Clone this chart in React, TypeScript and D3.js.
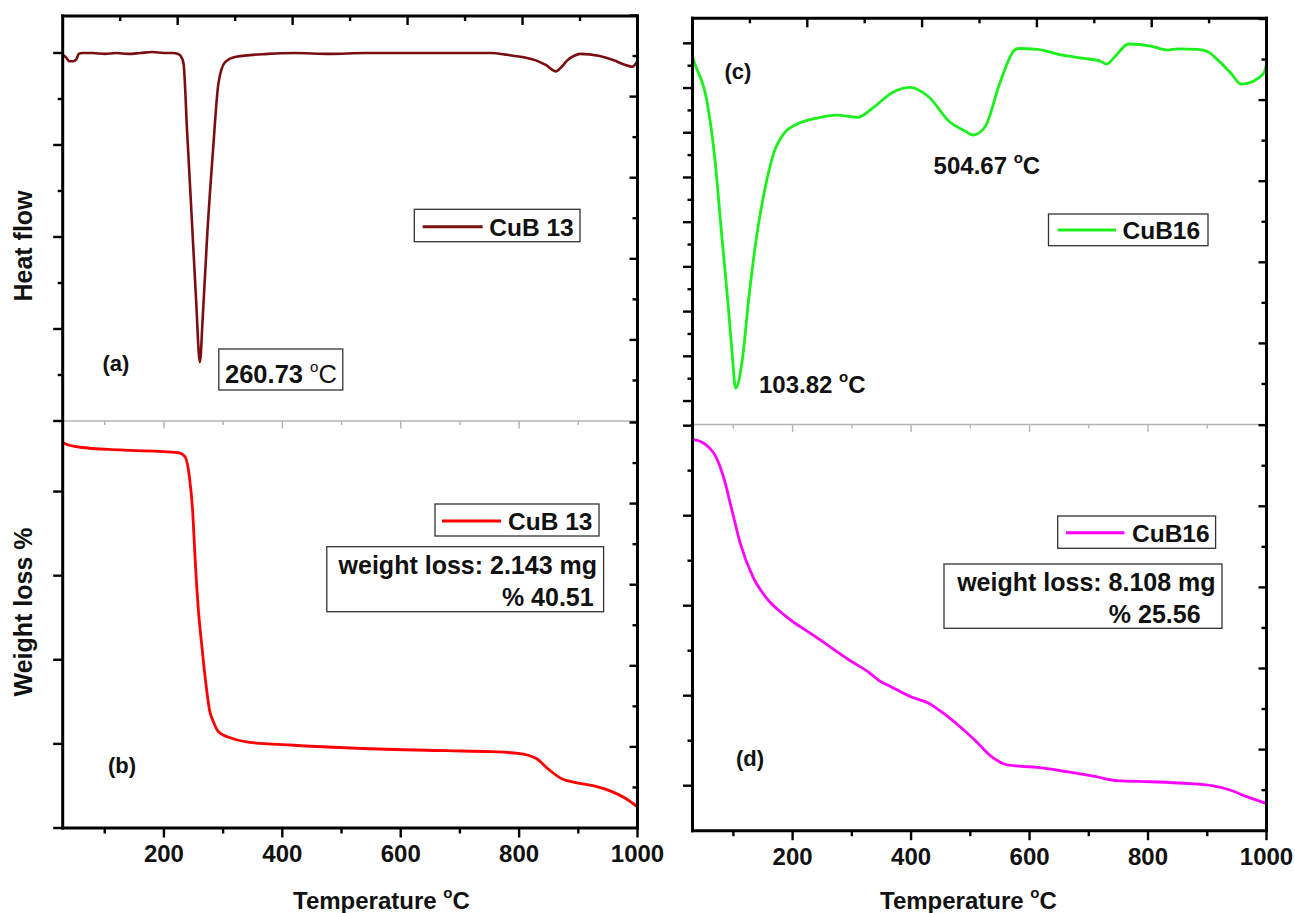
import React from 'react';
import * as d3 from 'd3';

// ---------------- data ----------------
// (a) DSC CuB 13
const aTemp = [29, 35, 40, 47, 52, 56, 62, 80, 100, 120, 140, 160, 180, 200, 215, 224, 228, 233, 239.3, 246.9, 254.3, 260.73, 265.5, 273.3, 283, 292.1, 303.4, 322.3, 375.5, 420, 480, 540, 600, 660, 720, 752.8, 780, 810, 828.4, 845, 862.4, 872, 881.4, 893, 903.4, 933.8, 960, 979.5, 990.9, 1000];
const aHeat = [-0.02, -0.05, -0.09, -0.09, -0.07, -0.01, 0.0, 0.0, -0.01, 0.0, -0.01, 0.0, 0.01, 0.0, 0.0, -0.01, -0.03, -0.11, -0.87, -1.78, -2.68, -3.36, -2.88, -1.96, -1.05, -0.33, -0.1, -0.04, -0.01, 0.0, -0.01, 0.0, 0.0, 0.0, 0.0, 0.0, -0.02, -0.05, -0.08, -0.13, -0.2, -0.15, -0.08, -0.03, -0.01, -0.03, -0.08, -0.13, -0.15, -0.09];

// (b) TGA CuB 13
const bTemp = [29, 31.5, 58, 126, 224, 235.5, 243, 248.4, 252.8, 258.2, 263.5, 269.5, 277, 284.6, 292.1, 314.6, 345, 413, 526, 677.3, 752.8, 798.3, 828.4, 851, 873.8, 896.4, 926.6, 956.9, 979.5, 1000];
const bWeight = [95.9, 95.74, 95.27, 94.95, 94.63, 94.15, 91.77, 87.81, 81.87, 75.92, 72.0, 67.99, 64.03, 62.45, 61.45, 60.67, 60.19, 59.87, 59.48, 59.19, 59.07, 58.88, 58.29, 56.9, 55.79, 55.39, 55.0, 54.32, 53.53, 52.5];

// (c) DSC CuB16
const cTemp = [31, 33.8, 55, 69, 80, 90.4, 97.5, 103.82, 115, 125.7, 140, 154, 168, 185.6, 210.5, 238.7, 274.4, 309.5, 337.7, 366, 397.8, 429.6, 465, 490, 504.67, 525, 549.7, 574.6, 581.6, 613, 655.8, 691, 720, 730, 744, 767, 805, 833, 850, 884, 901, 918, 940, 957, 968, 985.5, 996.6, 1000];
const cHeat = [15.4, 15.17, 13.46, 10.78, 7.51, 4.52, 2.28, 0.57, 1.83, 4.52, 7.5, 9.58, 11.08, 11.97, 12.42, 12.64, 12.79, 12.69, 13.16, 13.76, 14.03, 13.61, 12.49, 12.09, 11.9, 12.27, 14.21, 15.7, 15.77, 15.73, 15.47, 15.33, 15.2, 15.07, 15.4, 15.97, 15.88, 15.7, 15.75, 15.73, 15.62, 15.25, 14.66, 14.18, 14.21, 14.43, 14.73, 15.1];

// (d) TGA CuB16
const dTemp = [31, 40, 50, 60, 69.2, 83.2, 97.5, 111.7, 132.8, 154, 189.3, 238.7, 295.4, 330.8, 344.8, 366, 401.4, 429.6, 451, 479.2, 507.4, 535.9, 556.9, 578.2, 613.4, 662.8, 712.4, 747.7, 804.2, 860.7, 910.3, 938.5, 966.8, 998.6, 1000];
const dWeight = [98.45, 98.35, 98.05, 97.5, 96.7, 94.33, 90.63, 86.93, 83.22, 81.0, 78.78, 76.56, 73.97, 72.49, 71.74, 71.0, 69.82, 69.16, 68.22, 66.74, 65.08, 63.22, 62.41, 62.19, 62.04, 61.56, 61.0, 60.56, 60.44, 60.27, 59.97, 59.52, 58.78, 58.04, 58.0];

const xTickLabels = [200, 400, 600, 800, 1000];
const xMinorTicks = [100, 300, 500, 700, 900];
const topMajorTicks = [200, 400, 600, 800];
const topMinorTicks = [100, 300, 500, 700, 900];

const aMajor = [-4, -3, -2, -1, 0];
const aMinor = [-3.5, -2.5, -1.5, -0.5];
const bMajor = [50, 60, 70, 80, 90];
const cMajor = [0, 2, 4, 6, 8, 10, 12, 14, 16];
const cMinor = [1, 3, 5, 7, 9, 11, 13, 15];
const dMajor = [60, 70, 80, 90, 100];
const dMinor = [65, 75, 85, 95];

const colA = '#7a0f12';
const colB = '#ff0000';
const colC = '#1cf01c';
const colD = '#ff00ff';

const FONT = "'Liberation Sans', Arial, Helvetica, sans-serif";

// ---------------- layout ----------------
const LC = { x0: 62.7, x1: 637.5 };
const RC = { x0: 692.5, x1: 1266.5 };
const PA = { top: 16, bottom: 421 };
const PB = { top: 421, bottom: 828 };
const PC = { top: 18.3, bottom: 424.5 };
const PD = { top: 424.5, bottom: 830.7 };

const xL = d3.scaleLinear().domain([29, 1000]).range([LC.x0, LC.x1]);
const xR = d3.scaleLinear().domain([31, 1000]).range([RC.x0, RC.x1]);
const xTopL = d3.scaleLinear().domain([0, 1000]).range([LC.x0, LC.x1]);
const xTopR = d3.scaleLinear().domain([0, 1000]).range([RC.x0, RC.x1]);

const yA = d3.scaleLinear().domain([-4, 0.402]).range([PA.bottom, PA.top]);
const yB = d3.scaleLinear().domain([50, 98.39]).range([PB.bottom, PB.top]);
const yC = d3.scaleLinear().domain([-1.05, 17.12]).range([PC.bottom, PC.top]);
const yD = d3.scaleLinear().domain([55, 100.13]).range([PD.bottom, PD.top]);

const RSTEP = 40.55;
function rightScale(p: { top: number; bottom: number }) {
  const n = (p.bottom - p.top) / RSTEP;
  return d3.scaleLinear().domain([0, n]).range([p.bottom, p.top]);
}

function linePath(xs: number[], ys: number[], sx: any, sy: any) {
  const pts = xs.map((t, i) => [t, ys[i]] as [number, number]);
  return d3
    .line<[number, number]>()
    .x((d) => sx(d[0]))
    .y((d) => sy(d[1]))
    .curve(d3.curveMonotoneX)(pts) as string;
}

const TW = 2.4;

function LeftTicks({ x, sy, major, minor }: any) {
  return (
    <g stroke="#000" strokeWidth={TW}>
      {major.map((v: number) => (
        <line key={'M' + v} x1={x - 9.5} x2={x} y1={sy(v)} y2={sy(v)} />
      ))}
      {minor.map((v: number) => (
        <line key={'m' + v} x1={x - 5} x2={x} y1={sy(v)} y2={sy(v)} />
      ))}
    </g>
  );
}

function RightTicks({ x, p }: any) {
  const s = rightScale(p);
  const n = Math.floor(s.domain()[1] + 0.05);
  const ticks = d3.range(1, n + 1);
  return (
    <g stroke="#000" strokeWidth={TW}>
      {ticks.map((k: number) => (
        <line key={k} x1={x - (k % 2 === 0 ? 8 : 5)} x2={x} y1={s(k)} y2={s(k)} />
      ))}
    </g>
  );
}

function TopTicks({ sx, y }: any) {
  return (
    <g stroke="#000" strokeWidth={TW}>
      {topMajorTicks.map((v) => (
        <line key={'M' + v} x1={sx(v)} x2={sx(v)} y1={y} y2={y + 9} />
      ))}
      {topMinorTicks.map((v) => (
        <line key={'m' + v} x1={sx(v)} x2={sx(v)} y1={y} y2={y + 5} />
      ))}
    </g>
  );
}

function SepTicks({ sx, y }: any) {
  return (
    <g stroke="#b4b4b4" strokeWidth={1.4}>
      {xTickLabels.slice(0, 4).map((v) => (
        <line key={'M' + v} x1={sx(v)} x2={sx(v)} y1={y} y2={y + 7.5} />
      ))}
      {xMinorTicks.map((v) => (
        <line key={'m' + v} x1={sx(v)} x2={sx(v)} y1={y} y2={y + 4} />
      ))}
    </g>
  );
}

function BottomAxis({ sx, y }: any) {
  return (
    <g>
      <g stroke="#000" strokeWidth={TW}>
        {xTickLabels.map((v) => (
          <line key={'M' + v} x1={sx(v)} x2={sx(v)} y1={y} y2={y + 9.5} />
        ))}
        {xMinorTicks.map((v) => (
          <line key={'m' + v} x1={sx(v)} x2={sx(v)} y1={y} y2={y + 5.5} />
        ))}
      </g>
      <g fontFamily={FONT} fontWeight="bold" fontSize={24} textAnchor="middle" fill="#111">
        {xTickLabels.map((v) => (
          <text key={v} x={sx(v)} y={y + 34}>
            {v}
          </text>
        ))}
      </g>
    </g>
  );
}

function Frame({ c, top, mid, bottom }: any) {
  return (
    <g>
      <line x1={c.x0} x2={c.x1} y1={mid} y2={mid} stroke="#b4b4b4" strokeWidth={1.6} />
      <g stroke="#000" strokeWidth={3} fill="none" strokeLinecap="square">
        <line x1={c.x0} x2={c.x1} y1={top} y2={top} />
        <line x1={c.x0} x2={c.x1} y1={bottom} y2={bottom} />
        <line x1={c.x0} x2={c.x0} y1={top} y2={bottom} />
        <line x1={c.x1} x2={c.x1} y1={top} y2={bottom} />
      </g>
    </g>
  );
}

function Legend({ x0, x1, y0, y1, lx0, lx1, ly, color, label, tx }: any) {
  return (
    <g>
      <rect x={x0} y={y0} width={x1 - x0} height={y1 - y0} fill="#fff" stroke="#333" strokeWidth={1.3} />
      <line x1={lx0} x2={lx1} y1={ly} y2={ly} stroke={color} strokeWidth={3} />
      <text x={tx} y={ly + 9} fontFamily={FONT} fontWeight="bold" fontSize={24.5} fill="#111">
        {label}
      </text>
    </g>
  );
}

function Deg({ x, y, num, boldC, size }: any) {
  return (
    <text x={x} y={y} fontFamily={FONT} fontSize={size || 24} fill="#111">
      <tspan fontWeight="bold">{num} </tspan>
      <tspan fontSize={15} dy={-11} fontWeight={boldC ? 'bold' : 'normal'}>o</tspan>
      <tspan dy={11} fontWeight={boldC ? 'bold' : 'normal'}>C</tspan>
    </text>
  );
}

function XTitle({ x, y }: any) {
  return (
    <text x={x} y={y} fontFamily={FONT} fontWeight="bold" fontSize={24} fill="#111">
      <tspan>Temperature </tspan>
      <tspan fontSize={15} dy={-11}>o</tspan>
      <tspan dy={11}>C</tspan>
    </text>
  );
}

export default function App() {
  return (
    <svg
      width={1295}
      height={913}
      viewBox="0 0 1295 913"
      style={{ position: 'absolute', left: 0, top: 0, background: '#fff' }}
    >
      <rect x={0} y={0} width={1295} height={913} fill="#fff" />

      {/* curves */}
      <path d={linePath(aTemp, aHeat, xL, yA)} fill="none" stroke={colA} strokeWidth={2.6} />
      <path d={linePath(bTemp, bWeight, xL, yB)} fill="none" stroke={colB} strokeWidth={2.8} />
      <path d={linePath(cTemp, cHeat, xR, yC)} fill="none" stroke={colC} strokeWidth={2.8} />
      <path d={linePath(dTemp, dWeight, xR, yD)} fill="none" stroke={colD} strokeWidth={2.8} />

      {/* frames */}
      <Frame c={LC} top={PA.top} mid={PA.bottom} bottom={PB.bottom} />
      <Frame c={RC} top={PC.top} mid={PC.bottom} bottom={PD.bottom} />

      {/* ticks */}
      <TopTicks sx={xTopL} y={PA.top} />
      <TopTicks sx={xTopR} y={PC.top} />
      <SepTicks sx={xL} y={PA.bottom} />
      <SepTicks sx={xR} y={PC.bottom} />
      <LeftTicks x={LC.x0} sy={yA} major={aMajor} minor={aMinor} />
      <LeftTicks x={LC.x0} sy={yB} major={bMajor} minor={[]} />
      <LeftTicks x={RC.x0} sy={yC} major={cMajor} minor={cMinor} />
      <LeftTicks x={RC.x0} sy={yD} major={dMajor} minor={dMinor} />
      <RightTicks x={LC.x1} p={PA} />
      <RightTicks x={LC.x1} p={PB} />
      <RightTicks x={RC.x1} p={PC} />
      <RightTicks x={RC.x1} p={PD} />
      <BottomAxis sx={xL} y={PB.bottom} />
      <BottomAxis sx={xR} y={PD.bottom} />

      {/* axis titles */}
      <g fontFamily={FONT} fontWeight="bold" fontSize={25} fill="#111" textAnchor="middle">
        <text transform="translate(32,246) rotate(-90)">Heat flow</text>
        <text transform="translate(32,612) rotate(-90)">Weight loss %</text>
      </g>
      <XTitle x={293} y={909} />
      <XTitle x={880} y={909} />

      {/* panel labels */}
      <g fontFamily={FONT} fontWeight="bold" fontSize={22} fill="#111" textAnchor="middle">
        <text x={116} y={371}>(a)</text>
        <text x={122} y={773}>(b)</text>
        <text x={738} y={79}>(c)</text>
        <text x={750} y={766}>(d)</text>
      </g>

      {/* annotations */}
      <rect x={218.8} y={349} width={124} height={41} fill="#fff" stroke="#333" strokeWidth={1.3} />
      <Deg x={225} y={383} num="260.73" size={25.5} />
      <Deg x={759} y={393} num="103.82" boldC />
      <Deg x={933.6} y={174} num="504.67" boldC />

      {/* legends */}
      <Legend x0={414.3} x1={580} y0={209.3} y1={241.7} lx0={422.7} lx1={482.7} ly={226.7} color={colA} label="CuB 13" tx={489.3} />
      <Legend x0={435} x1={599} y0={504} y1={536} lx0={442} lx1={501} ly={521} color={colB} label="CuB 13" tx={508} />
      <Legend x0={1048.5} x1={1208} y0={214} y1={245.7} lx0={1057.7} lx1={1116} ly={230} color={colC} label="CuB16" tx={1122.5} />
      <Legend x0={1057.7} x1={1215.6} y0={516} y1={548.3} lx0={1066} lx1={1124.5} ly={532.7} color={colD} label="CuB16" tx={1132} />

      {/* weight loss boxes */}
      <rect x={326.8} y={546.7} width={276.8} height={65} fill="#fff" stroke="#333" strokeWidth={1.3} />
      <g fontFamily={FONT} fontWeight="bold" fontSize={25} fill="#111" textAnchor="end">
        <text x={597} y={574}>weight loss: 2.143 mg</text>
        <text x={593.7} y={606}>% 40.51</text>
      </g>
      <rect x={944} y={564} width={278} height={64.3} fill="#fff" stroke="#333" strokeWidth={1.3} />
      <g fontFamily={FONT} fontWeight="bold" fontSize={25} fill="#111" textAnchor="end">
        <text x={1215.6} y={591}>weight loss: 8.108 mg</text>
        <text x={1200.6} y={622.5}>% 25.56</text>
      </g>
    </svg>
  );
}
